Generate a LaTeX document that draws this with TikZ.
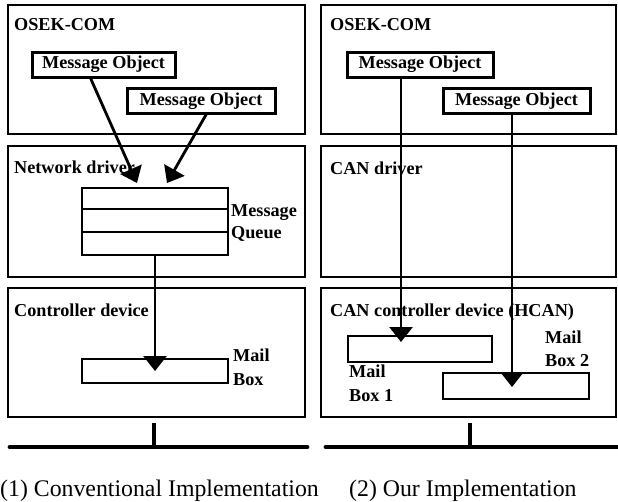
\documentclass[tikz,border=0pt]{standalone}
\usepackage{fontspec}
\setmainfont{Liberation Serif}
\usetikzlibrary{arrows.meta,calc}

\begin{document}
\begin{tikzpicture}[x=1pt,y=-1pt,
  panel/.style={draw,line width=2.8pt,inner sep=0pt,outer sep=0pt},
  msgobj/.style={draw,line width=3pt,inner sep=0pt,outer sep=0pt,minimum height=25pt,
    font=\fontsize{18.2}{22}\selectfont\bfseries},
  slot/.style={draw,line width=2.8pt,inner sep=0pt,outer sep=0pt},
  lbl/.style={anchor=base west,inner sep=0pt,font=\fontsize{18.2}{22}\selectfont\bfseries},
  captxt/.style={anchor=base west,inner sep=0pt,font=\fontsize{23.8}{28}\selectfont},
  flow/.style={line width=2.8pt,-{Triangle[width=23pt,length=15pt]}},
  bus/.style={line width=4.8pt,line cap=round},
  stub/.style={line width=4.2pt},
]
\useasboundingbox (0,0) rectangle (618,501);

% ---------- (1) conventional implementation ----------
\node[panel,minimum width=297pt,minimum height=129pt] (comL) at (156.5,69.5) {};
\node[panel,minimum width=297pt,minimum height=131pt] (drvL) at (156.5,211.5) {};
\node[panel,minimum width=297pt,minimum height=129pt] (devL) at (156.5,352.5) {};

\node[lbl] (comLt) at (14,30) {OSEK-COM};
\node[lbl] (drvLt) at (14,173) {Network driver};
\node[lbl] (devLt) at (14,316) {Controller device};

\node[msgobj,minimum width=143pt] (moL1) at (103.5,64.5) {Message Object};
\node[msgobj,minimum width=148pt] (moL2) at (201,101) {Message Object};

% message queue with three slots
\node[slot,minimum width=146pt,minimum height=21pt] (q1) at (155,198.5) {};
\node[slot,minimum width=146pt,minimum height=23pt] (q2) at (155,220.5) {};
\node[slot,minimum width=146pt,minimum height=23pt] (q3) at (155,243.5) {};
\node[lbl] (qt1) at (231,216) {Message};
\node[lbl] (qt2) at (231,238) {Queue};

% mail box
\node[slot,minimum width=146pt,minimum height=24pt] (mb) at (155,371) {};
\node[lbl] (mbt1) at (233,361) {Mail};
\node[lbl] (mbt2) at (233,385) {Box};

\coordinate (inA) at (137,183);
\coordinate (inB) at (167,183);
\coordinate (srcA) at (90,77);
\coordinate (srcB) at (207,113);
\draw[flow] (srcA) -- (inA);
\draw[flow] (srcB) -- (inB);
\draw[flow] (q3.south) -- (mb.center);

% bus
\coordinate (busL1) at (10,447);
\coordinate (busL2) at (307,447);
\coordinate (tapL) at (154,423);
\draw[bus] (busL1) -- (busL2);
\draw[stub] (tapL) -- (tapL |- busL1);

% ---------- (2) our implementation ----------
\node[panel,minimum width=295pt,minimum height=129pt] (comR) at (468.5,69.5) {};
\node[panel,minimum width=295pt,minimum height=131pt] (drvR) at (468.5,211.5) {};
\node[panel,minimum width=295pt,minimum height=129pt] (devR) at (468.5,352.5) {};

\node[lbl] (comRt) at (330,30) {OSEK-COM};
\node[lbl] (drvRt) at (330,174) {CAN driver};
\node[lbl] (devRt) at (330,316) {CAN controller device (HCAN)};

\node[msgobj,minimum width=146pt] (moR1) at (420,64.5) {Message Object};
\node[msgobj,minimum width=147pt] (moR2) at (516.5,101) {Message Object};

\node[slot,minimum width=144pt,minimum height=26pt] (mb1) at (420,349) {};
\node[slot,minimum width=146pt,minimum height=26pt] (mb2) at (516,386) {};
\node[lbl] (mb1t1) at (349,377) {Mail};
\node[lbl] (mb1t2) at (349,401) {Box 1};
\node[lbl] (mb2t1) at (545,343) {Mail};
\node[lbl] (mb2t2) at (545,366) {Box 2};

\coordinate (tip1) at (401,342);
\coordinate (tip2) at (512,387);
\draw[flow] (moR1.south -| tip1) -- (tip1);
\draw[flow] (moR2.south -| tip2) -- (tip2);

\coordinate (busR1) at (326,447);
\coordinate (busR2) at (622,447);
\coordinate (tapR) at (470,423);
\draw[bus] (busR1) -- (busR2);
\draw[stub] (tapR) -- (tapR |- busR1);

% captions
\node[captxt] (capL) at (0,496) {(1) Conventional Implementation};
\node[captxt] (capR) at (349,496) {(2) Our Implementation};
\end{tikzpicture}
\end{document}
